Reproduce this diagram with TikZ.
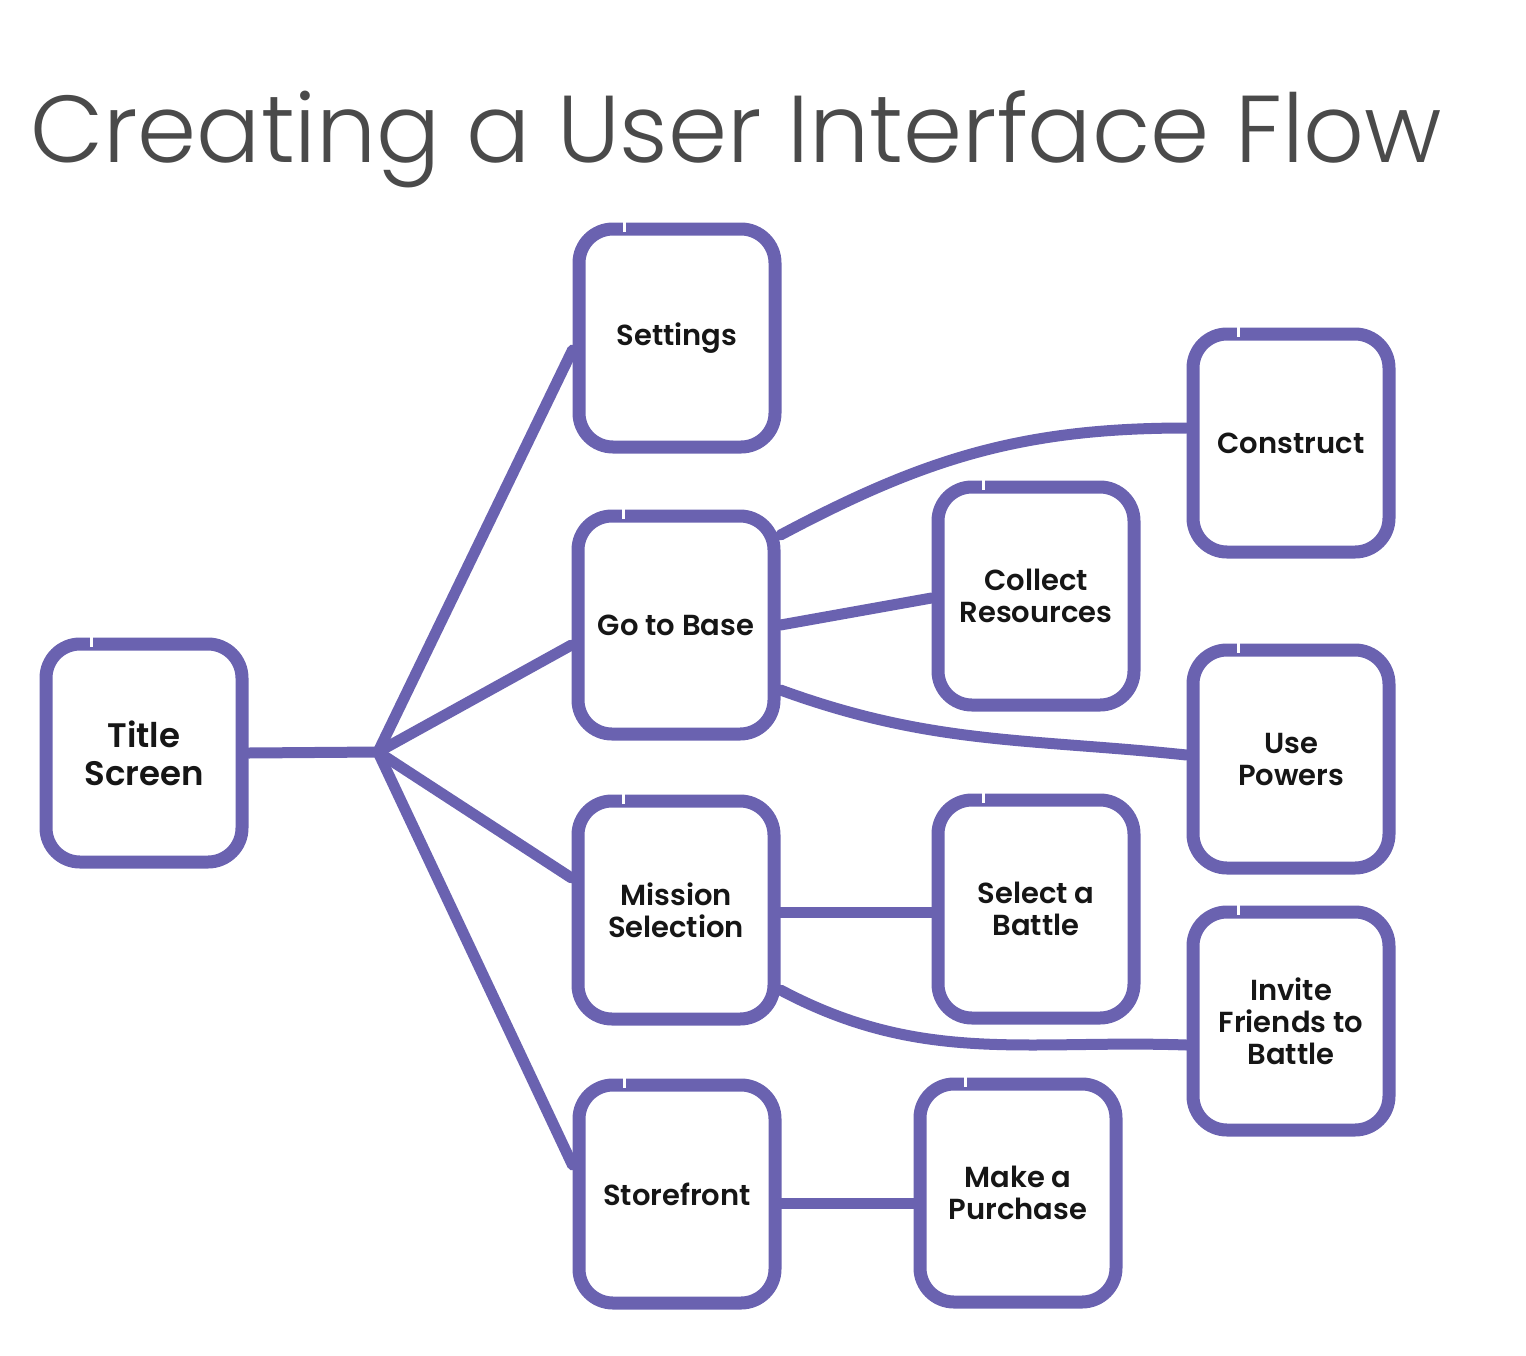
\documentclass[tikz,border=0pt]{standalone}
\usepackage{fontspec}
\newfontfamily\titlefont{Poppins Light}
\newfontfamily\boxfont{Poppins SemiBold}
\definecolor{chalk}{RGB}{106,98,176}
\definecolor{titlegray}{RGB}{74,74,74}
\definecolor{ink}{RGB}{22,22,22}
\begin{document}
\begin{tikzpicture}[x=1pt,y=1pt,
  uibox/.style={draw=chalk, line width=13pt, rounded corners=34pt,
    minimum width=196pt, minimum height=218pt, align=center,
    font=\boxfont\fontsize{29}{32}\selectfont, text=ink, inner sep=0pt},
  bigtext/.style={font=\boxfont\fontsize{34}{38}\selectfont},
  link/.style={draw=chalk, line width=11pt, line cap=round},
  notch/.style={draw=white, line width=2.5pt}]
\useasboundingbox (0,0) rectangle (1526,-1355);
\node[anchor=base west, text=titlegray, font=\titlefont\fontsize{95}{110}\selectfont, inner sep=0pt] (title) at (30,-162) {Creating a User Interface Flow};

\node[uibox, bigtext] (ts) at (144,-753) {Title\\Screen};
\node[uibox] (settings) at (677,-338) {Settings};
\node[uibox] (base) at (676,-625) {Go to Base};
\node[uibox] (mission) at (676,-910) {Mission\\Selection};
\node[uibox] (store) at (677,-1194) {Storefront};
\node[uibox] (construct) at (1291,-443) {Construct};
\node[uibox] (collect) at (1036,-596) {Collect\\Resources};
\node[uibox] (powers) at (1291,-759) {Use\\Powers};
\node[uibox] (select) at (1036,-909) {Select a\\Battle};
\node[uibox] (invite) at (1291,-1021) {Invite\\Friends to\\Battle};
\node[uibox] (buy) at (1018,-1193) {Make a\\Purchase};

\foreach \n in {ts,settings,base,mission,store,construct,collect,powers,select,invite,buy}
  \draw[notch] ([xshift=52pt,yshift=9pt]\n.north west) -- ([xshift=52pt,yshift=-9pt]\n.north west);

\coordinate (hub) at (378,-752);

\draw[link] (ts.east) -- (hub);
\draw[link] (hub) -- ([yshift=-12pt]settings.west);
\draw[link] (hub) -- ([yshift=-20pt]base.west);
\draw[link] (hub) -- ([yshift=32pt]mission.west);
\draw[link] (hub) -- ([yshift=29pt]store.west);

\draw[link] ([yshift=90pt]base.east) to[out=28,in=180] ([yshift=15pt]construct.west);
\draw[link] (base.east) -- ([yshift=-2pt]collect.west);
\draw[link] ([yshift=-65pt]base.east) to[out=-20,in=174] ([yshift=4pt]powers.west);
\draw[link] ([yshift=-2pt]mission.east) -- ([yshift=-3pt]select.west);
\draw[link] ([yshift=-80pt]mission.east) to[out=-28,in=178] ([yshift=-24pt]invite.west);
\draw[link] ([yshift=-9pt]store.east) -- ([yshift=-10pt]buy.west);
\end{tikzpicture}
\end{document}
